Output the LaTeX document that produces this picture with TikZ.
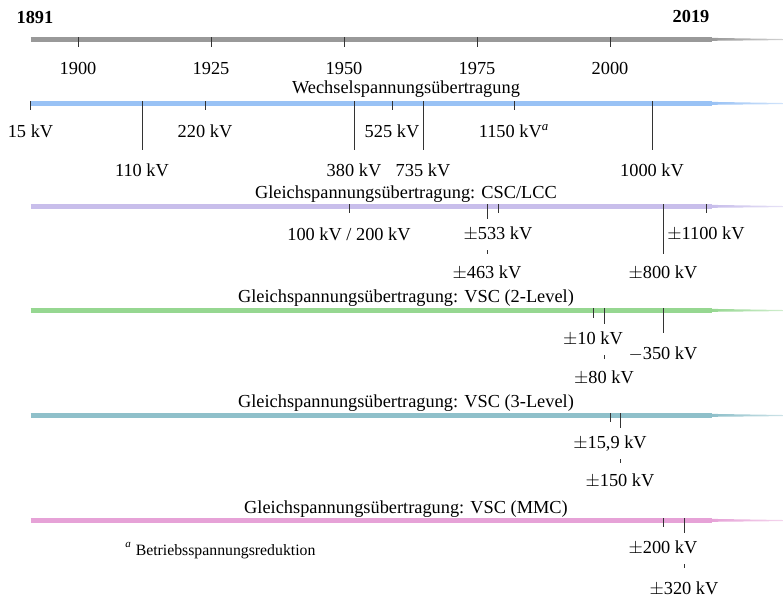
\documentclass[tikz,border=0pt]{standalone}
\usepackage{fontspec}
\setmainfont{Liberation Serif}
\usetikzlibrary{calc}
\definecolor{cgray}{RGB}{153,153,153}
\definecolor{cac}{RGB}{153,194,245}
\definecolor{clcc}{RGB}{200,190,235}
\definecolor{cvsctwo}{RGB}{150,215,145}
\definecolor{cvscthree}{RGB}{143,192,202}
\definecolor{cmmc}{RGB}{230,162,215}
\tikzset{
  barline/.style={line width=2.75pt, line cap=butt},
  tickline/.style={black!80, line width=0.5pt},
  lbl/.style={anchor=base, inner xsep=1pt, inner ysep=2.6pt, fill=white, font=\fontsize{10}{12}\selectfont},
  ttl/.style={anchor=base, inner sep=0pt, font=\fontsize{10}{12}\selectfont},
}
% name, x, y0, y1, baseline, text
\newcommand\mytick[6]{%
  \coordinate (#1s) at (#2,#3);
  \coordinate (#1e) at (#2,#4);
  \draw[tickline] (#1s) -- (#1e);
  \node[lbl] (#1l) at (#2,#5) {\strut #6};}
% name, y, colour
\newcommand\mybar[3]{%
  \coordinate (#1s) at (30.5,#2);
  \coordinate (#1e) at (712,#2);
  \draw[barline, #3] (#1s) -- (#1e);
  \shade[left color=#3, right color=#3!45] ($(#1e)+(0,-1.6)$) -- (783,#2-0.5) -- (783,#2+0.6) -- ($(#1e)+(0,1.3)$) -- cycle;}
\begin{document}
\begin{tikzpicture}[x=0.545pt, y=-0.545pt]
\useasboundingbox (0,0) rectangle (783,597);
% top timeline
\node[ttl, font=\fontsize{10}{12}\selectfont\bfseries] (y1891) at (35,23) {1891};
\node[ttl, font=\fontsize{10}{12}\selectfont\bfseries] (y2019) at (691,22) {2019};
\mybar{gb}{39.5}{cgray}
\mytick{g1}{78}{37}{47}{74}{1900}
\mytick{g2}{211}{37}{47}{74}{1925}
\mytick{g3}{344}{37}{47}{74}{1950}
\mytick{g4}{477}{37}{47}{74}{1975}
\mytick{g5}{610}{37}{47}{74}{2000}
% AC
\node[ttl] (tac) at (406,93) {Wechselspannungsübertragung};
\mybar{ab}{103.5}{cac}
\mytick{a1}{30.5}{101}{110}{137}{15 kV}
\mytick{a3}{205}{101}{110}{137}{220 kV}
\mytick{a5}{392}{101}{110}{137}{525 kV}
\mytick{a7}{514}{101}{110}{137}{1150 kV\textsuperscript{\itshape a}}
\mytick{a2}{142}{101}{150}{176}{110 kV}
\mytick{a4}{354}{101}{150}{176}{380 kV}
\mytick{a6}{423}{101}{150}{176}{735 kV}
\mytick{a8}{652}{101}{150}{176}{1000 kV}
% LCC
\node[ttl] (tlcc) at (406,198) {Gleichspannungsübertragung: CSC/LCC};
\mybar{lb}{206.5}{clcc}
\mytick{l1}{349}{204}{213}{240}{100 kV / 200 kV}
\mytick{l2}{487}{204}{254}{278}{$\pm$463 kV}
\mytick{l3}{498}{204}{213}{239}{$\pm$533 kV}
\mytick{l5}{706}{204}{213}{239}{$\pm$1100 kV}
\mytick{l4}{663}{204}{254}{278}{$\pm$800 kV}
% VSC 2-Level
\node[ttl] (tv2) at (406,302) {Gleichspannungsübertragung: VSC (2-Level)};
\mybar{vb}{310.5}{cvsctwo}
\mytick{v2}{604}{308}{359}{383}{$\pm$80 kV}
\mytick{v1}{593}{308}{318}{344}{$\pm$10 kV}
\mytick{v3}{663}{308}{333}{359}{$-$350 kV}
% VSC 3-Level
\node[ttl] (tv3) at (406,407) {Gleichspannungsübertragung: VSC (3-Level)};
\mybar{wb}{415.5}{cvscthree}
\mytick{w2}{620}{413}{463}{486}{$\pm$150 kV}
\mytick{w1}{610}{413}{422}{448}{$\pm$15,9 kV}
% MMC
\node[ttl] (tmmc) at (406,513) {Gleichspannungsübertragung: VSC (MMC)};
\mybar{mb}{520.5}{cmmc}
\mytick{m2}{684}{518}{568}{594}{$\pm$320 kV}
\mytick{m1}{663}{518}{527}{553}{$\pm$200 kV}
% footnote
\node[anchor=base west, inner sep=0pt, font=\fontsize{8.6}{10}\selectfont] (fn) at (125,555) {\textsuperscript{\itshape a} Betriebsspannungsreduktion};
\end{tikzpicture}
\end{document}
